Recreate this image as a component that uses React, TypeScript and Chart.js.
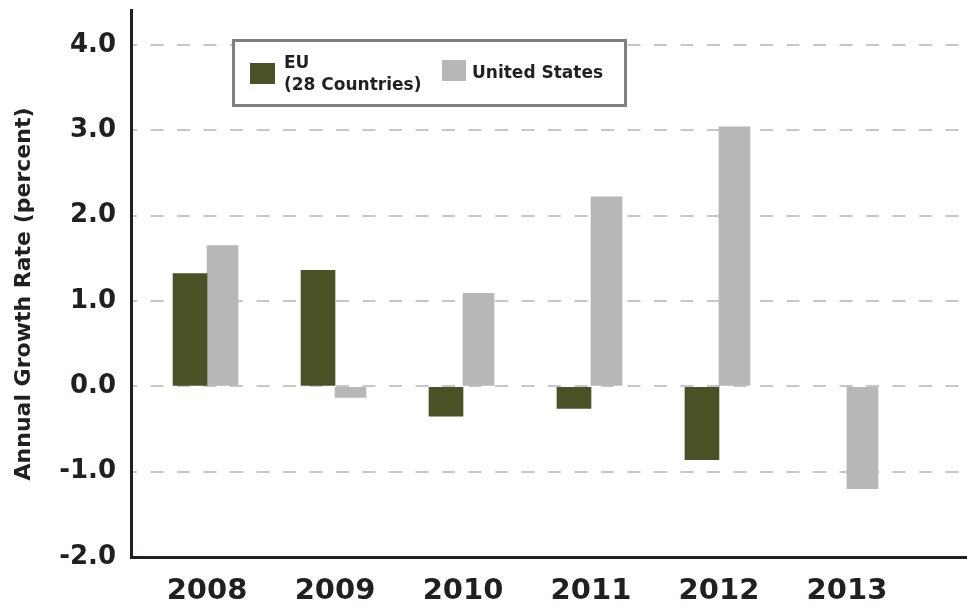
import { useEffect, useRef } from 'react';
import { Chart, registerables } from 'chart.js';

Chart.register(...registerables);

const years = ['2008', '2009', '2010', '2011', '2012', '2013'];
const euValues = [1.32, 1.36, -0.35, -0.26, -0.86, null];
const usValues = [1.65, -0.13, 1.09, 2.22, 3.04, -1.2];
const yTickValues = [-2, -1, 0, 1, 2, 3, 4];
const euLegendLines = ['EU', '(28 Countries)'];
const usLegendLines = ['United States'];
const yAxisTitle = 'Annual Growth Rate (percent)';

const EU_COLOR = '#4b5027';
const US_COLOR = '#b6b7b6';
const INK = '#231f20';
const FONT = '"DejaVu Sans", sans-serif';

const overlayPlugin = {
  id: 'overlay',
  afterDraw(chart: any) {
    const ctx = chart.ctx as CanvasRenderingContext2D;
    ctx.save();
    // legend box
    ctx.fillStyle = '#ffffff';
    ctx.fillRect(233.5, 40.5, 392, 65);
    ctx.strokeStyle = '#808080';
    ctx.lineWidth = 3;
    ctx.strokeRect(233.5, 40.5, 392, 65);
    ctx.fillStyle = EU_COLOR;
    ctx.fillRect(250, 63, 25, 21);
    ctx.fillStyle = US_COLOR;
    ctx.fillRect(442, 60, 24, 21);
    ctx.fillStyle = INK;
    ctx.font = `bold 17px ${FONT}`;
    ctx.textAlign = 'left';
    ctx.textBaseline = 'alphabetic';
    euLegendLines.forEach((t, i) => ctx.fillText(t, 284, 68 + i * 22));
    usLegendLines.forEach((t, i) => ctx.fillText(t, 472, 78 + i * 22));
    // y axis title
    ctx.translate(24, 294);
    ctx.rotate(-Math.PI / 2);
    ctx.textAlign = 'center';
    ctx.textBaseline = 'middle';
    ctx.font = `bold 22px ${FONT}`;
    ctx.fillText(yAxisTitle, 0, 0);
    ctx.restore();
  },
};

export default function App() {
  const ref = useRef<HTMLCanvasElement | null>(null);

  useEffect(() => {
    if (!ref.current) return;
    const chart = new Chart(ref.current, {
      type: 'bar',
      data: {
        datasets: [
          {
            label: euLegendLines.join(' '),
            data: years.map((_, i) => ({ x: i, y: euValues[i] })),
            backgroundColor: EU_COLOR,
            barThickness: 34,
          },
          {
            label: usLegendLines.join(' '),
            data: years.map((_, i) => ({ x: i, y: usValues[i] })),
            backgroundColor: US_COLOR,
            barThickness: 31,
          },
        ],
      },
      options: {
        animation: false,
        responsive: true,
        maintainAspectRatio: false,
        layout: { padding: { top: 10, right: 0, left: 0, bottom: 0 } },
        plugins: {
          legend: { display: false },
          tooltip: { enabled: false },
        },
        scales: {
          x: {
            type: 'linear',
            offset: false,
            min: -0.594,
            max: 5.938,
            afterBuildTicks: (s: any) => {
              s.ticks = years.map((_, i) => ({ value: i }));
            },
            afterFit: (s: any) => {
              s.height = 51;
              s.paddingLeft = 0;
              s.paddingRight = 0;
            },
            grid: { display: false, drawTicks: false },
            border: { display: true, color: INK, width: 3 },
            ticks: {
              padding: 17,
              color: INK,
              font: { family: FONT, weight: 'bold', size: 29 },
              callback: (v: any) => years[Math.round(Number(v))] ?? '',
            },
          },
          y: {
            type: 'linear',
            min: -2,
            max: 4.41,
            afterBuildTicks: (s: any) => {
              s.ticks = yTickValues.map((v) => ({ value: v }));
            },
            afterFit: (s: any) => {
              s.width = 131;
              s.paddingTop = 0;
              s.paddingBottom = 0;
            },
            grid: {
              drawTicks: false,
              lineWidth: 2,
              color: (c: any) => (c.tick && c.tick.value === -2 ? 'rgba(0,0,0,0)' : '#c6c6c6'),
            },
            border: { display: true, color: INK, width: 3, dash: [13, 13.5], dashOffset: 9 },
            ticks: {
              padding: 15,
              color: INK,
              font: { family: FONT, weight: 'bold', size: 26 },
              callback: (v: any) => Number(v).toFixed(1),
            },
          },
        },
      },
      plugins: [overlayPlugin],
    } as any);
    return () => chart.destroy();
  }, []);

  return (
    <div style={{ position: 'absolute', left: 0, top: 0, width: 967, height: 608, background: '#ffffff' }}>
      <canvas ref={ref} />
    </div>
  );
}
